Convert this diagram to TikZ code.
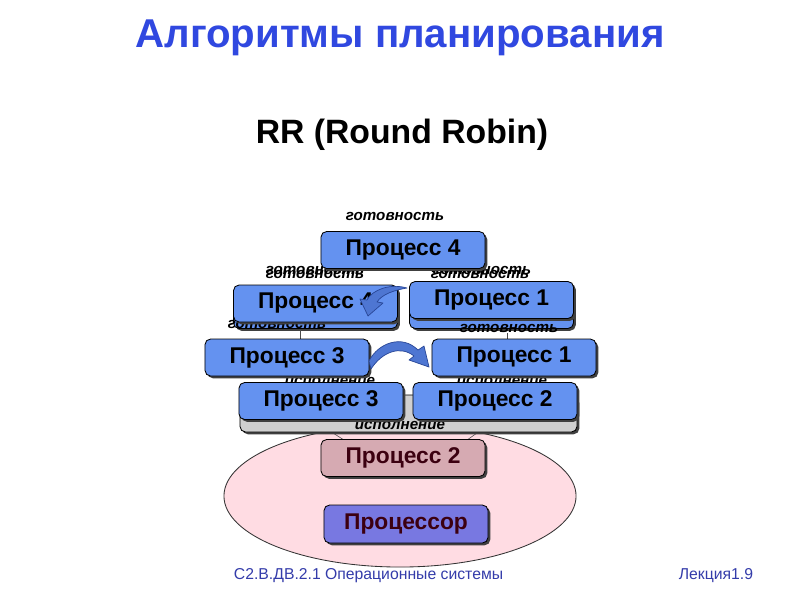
\documentclass[tikz,border=0pt]{standalone}
\usepackage{fontspec}
\setmainfont{Liberation Sans}
\usetikzlibrary{shadows,shapes.geometric}
\definecolor{titleblue}{RGB}{48,72,224}
\definecolor{procblue}{RGB}{100,146,240}
\definecolor{arrowblue}{RGB}{78,118,210}
\definecolor{arrowedge}{RGB}{40,70,150}
\definecolor{pinkfill}{RGB}{255,220,227}
\definecolor{pinkbox}{RGB}{214,170,178}
\definecolor{cpubox}{RGB}{120,120,225}
\definecolor{maroon}{RGB}{60,0,16}
\definecolor{footblue}{RGB}{52,60,170}
\definecolor{grayfill}{RGB}{208,208,208}
\tikzset{
  procbox/.style={draw=black, line width=0.6pt, rounded corners=4pt, fill=procblue,
    minimum width=4.1cm, minimum height=0.925cm, inner sep=0pt,
    font=\fontsize{16.2}{18}\selectfont\bfseries,
    drop shadow={shadow xshift=1.6pt, shadow yshift=-1.6pt, fill=black!75, opacity=1}},
  backbox/.style={procbox},
  lbl/.style={font=\fontsize{10.8}{12}\selectfont\bfseries\itshape, inner sep=0pt},
  thinline/.style={draw=black!70, line width=0.4pt},
  curvarrow/.style={fill=arrowblue, draw=arrowedge, line width=0.5pt, line join=round}
}
\begin{document}
\begin{tikzpicture}[x=0.025cm, y=-0.025cm]
\useasboundingbox[fill=white] (0,0) rectangle (800,600);

% titles
\node[font=\fontsize{28.6}{32}\selectfont\bfseries, text=titleblue] (title) at (400,38) {Алгоритмы планирования};
\node[font=\fontsize{24}{28}\selectfont\bfseries] (rr) at (402,135) {RR (Round Robin)};

% processor ellipse
\node[ellipse, draw=black!80, fill=pinkfill, line width=0.6pt, minimum width=8.8cm, minimum height=3.55cm, inner sep=0pt] (ell) at (400,496) {};

% small connectors
\coordinate (la) at (333,433); \coordinate (lb) at (344,440);
\coordinate (ra) at (477,433); \coordinate (rb) at (467,440);
\draw[thinline] (la) -- (lb);
\draw[thinline] (ra) -- (rb);

\node[procbox, fill=pinkbox, text=maroon] (p2pink) at (403,458) {Процесс 2};
\node[procbox, fill=cpubox, text=maroon, minimum height=0.95cm] (cpu) at (406,524) {Процессор};

% gray box behind the lower row
\node[procbox, fill=grayfill, minimum width=8.425cm] (gray) at (408.5,413.5) {};
\node[lbl] (isp3) at (400,425) {исполнение};

% back boxes of the upper row
\node[backbox] (p4back) at (315.5,310) {};
\node[backbox] (p1back) at (491.5,310) {};

% ready labels
\node[lbl] (g0) at (395,216) {готовность};
\node[lbl] (g1a) at (315,270) {готовность};
\node[lbl] (g1b) at (315,274.5) {готовность};
\node[lbl] (g2a) at (482,270) {готовность};
\node[lbl] (g2b) at (480,274.5) {готовность};
\node[lbl] (g3) at (277,324) {готовность};
\node[lbl] (g4) at (509,328) {готовность};
\node[lbl] (isp1) at (330,381) {исполнение};
\node[lbl] (isp2) at (502,381) {исполнение};

% thin lines
\coordinate (v1a) at (300,330); \coordinate (v1b) at (300,339);
\coordinate (v2a) at (507,333); \coordinate (v2b) at (507,339);
\draw[thinline] (v1a) -- (v1b);
\draw[thinline] (v2a) -- (v2b);

% process boxes
\node[procbox] (p4top) at (403,250) {Процесс 4};
\node[procbox] (p4) at (315.5,303.5) {Процесс 4};
\node[procbox] (p1up) at (491.5,300) {Процесс 1};
\node[procbox] (p3) at (287,357.5) {Процесс 3};
\node[procbox] (p1) at (514,357.5) {Процесс 1};
\node[procbox] (p3low) at (321,401) {Процесс 3};
\node[procbox] (p2) at (495,401) {Процесс 2};

% curved block arrows
\draw[curvarrow] (407,288) .. controls (390,283) and (372,290) .. (367,300)
  -- (360,299) -- (368,316) -- (383,303) -- (377,302)
  .. controls (382,294) and (395,290) .. (407,288) -- cycle;
\draw[curvarrow] (369,361) .. controls (378,343) and (402,334) .. (418,350)
  -- (424,346) -- (429,367) -- (409,360) -- (414,356)
  .. controls (400,345) and (382,352) .. (371,369) -- cycle;

% footer
\node[font=\fontsize{11.2}{13}\selectfont, text=footblue, anchor=west] (foot) at (229,576) {С2.В.ДВ.2.1 Операционные системы};
\node[font=\fontsize{11.2}{13}\selectfont, text=footblue, anchor=east] (lect) at (758,576) {Лекция1.9};
\end{tikzpicture}
\end{document}
